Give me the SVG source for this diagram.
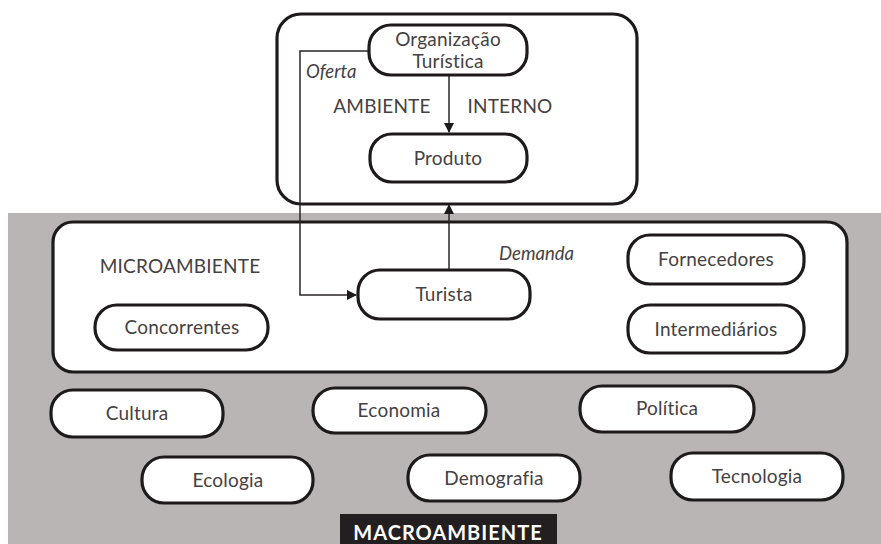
<svg xmlns="http://www.w3.org/2000/svg" width="881" height="544" viewBox="0 0 881 544">
<defs>
<style>
.box{fill:#fff;stroke:#1e1a1c;stroke-width:3.2}
.t{font-family:Lato,"Liberation Sans",sans-serif;font-size:19px;fill:#454143;text-anchor:middle;letter-spacing:0.2px}
.it{font-family:Lato,"Liberation Sans",sans-serif;font-size:18.5px;font-style:italic;fill:#454143}
.ln{fill:none;stroke:#2a2628;stroke-width:1.5}
</style>
<marker id="ah" viewBox="0 0 10 10" refX="9" refY="5" markerWidth="10" markerHeight="10" markerUnits="userSpaceOnUse" orient="auto"><path d="M0,0L10,5L0,10z" fill="#1e1a1c"/></marker>
</defs>
<rect x="0" y="0" width="881" height="544" fill="#fff"/>
<rect x="8" y="213" width="873" height="331" fill="#b9b5b4"/>
<g id="interno">
<rect class="box" x="277" y="14" width="360" height="190" rx="24"/>
<text class="t" x="382" y="113">AMBIENTE</text>
<text class="t" x="510" y="113">INTERNO</text>
</g>
<g id="micro">
<rect class="box" x="53" y="222" width="794" height="150" rx="20"/>
<text class="t" x="180" y="273">MICROAMBIENTE</text>
</g>
<g id="connectors">
<line class="ln" x1="449" y1="76" x2="449" y2="132" marker-end="url(#ah)"/>
<line class="ln" x1="449" y1="270" x2="449" y2="205" marker-end="url(#ah)"/>
<polyline class="ln" points="369,51 300,51 300,295 356,295" marker-end="url(#ah)"/>
<text class="it" x="306" y="78">Oferta</text>
<text class="it" x="499" y="260">Demanda</text>
</g>
<g id="org"><rect class="box" x="369" y="25" width="158" height="50" rx="22"/><text class="t" x="448" y="46">Organização</text><text class="t" x="448" y="68">Turística</text></g>
<g id="produto"><rect class="box" x="370" y="134" width="157" height="48" rx="22"/><text class="t" x="448" y="165">Produto</text></g>
<g id="turista"><rect class="box" x="358" y="270" width="172" height="49" rx="22"/><text class="t" x="444" y="301">Turista</text></g>
<g id="fornecedores"><rect class="box" x="628" y="235" width="176" height="49" rx="22"/><text class="t" x="716" y="266">Fornecedores</text></g>
<g id="intermediarios"><rect class="box" x="628" y="305" width="176" height="48" rx="22"/><text class="t" x="716" y="336">Intermediários</text></g>
<g id="concorrentes"><rect class="box" x="95" y="305" width="173" height="45" rx="22"/><text class="t" x="182" y="334">Concorrentes</text></g>
<g id="cultura"><rect class="box" x="51" y="390" width="172" height="47" rx="22"/><text class="t" x="137" y="420">Cultura</text></g>
<g id="economia"><rect class="box" x="313" y="388" width="173" height="45" rx="22"/><text class="t" x="399" y="417">Economia</text></g>
<g id="politica"><rect class="box" x="580" y="386" width="174" height="46" rx="22"/><text class="t" x="667" y="415">Política</text></g>
<g id="ecologia"><rect class="box" x="142" y="457" width="171" height="46" rx="22"/><text class="t" x="228" y="487">Ecologia</text></g>
<g id="demografia"><rect class="box" x="408" y="455" width="172" height="46" rx="22"/><text class="t" x="494" y="485">Demografia</text></g>
<g id="tecnologia"><rect class="box" x="671" y="453" width="172" height="47" rx="22"/><text class="t" x="757" y="483">Tecnologia</text></g>
<g id="macro"><rect x="340" y="514" width="217" height="30" fill="#231f20"/><text x="448" y="540" font-family="Lato,'Liberation Sans',sans-serif" font-size="20" font-weight="bold" fill="#fff" text-anchor="middle" letter-spacing="1">MACROAMBIENTE</text></g>
</svg>
